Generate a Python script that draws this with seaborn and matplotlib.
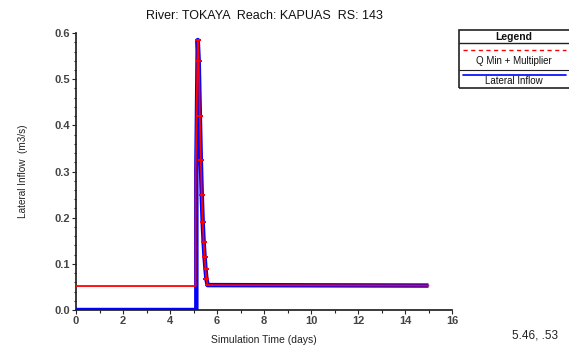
import matplotlib
matplotlib.use("Agg")
import matplotlib.pyplot as plt
from matplotlib.lines import Line2D
from matplotlib.ticker import MultipleLocator
import seaborn as sns
import pandas as pd

# ---- data (days, m3/s) ----
peak_time = [5.18, 5.22, 5.27, 5.31, 5.35, 5.39, 5.43, 5.47, 5.51, 5.55, 5.60, 15.0]
peak_flow = [0.585, 0.54, 0.42, 0.325, 0.25, 0.19, 0.148, 0.115, 0.089, 0.067, 0.054, 0.053]

lat_time = [0.0, 5.12, 5.12] + peak_time
lat_flow = [0.0, 0.0, 0.30] + peak_flow

qmin_time = [0.0, 5.09, 5.09] + peak_time
qmin_flow = [0.052, 0.052, 0.30] + peak_flow

marker_time = peak_time[:-1]
marker_flow = peak_flow[:-1]

title = "River: TOKAYA  Reach: KAPUAS  RS: 143"
xlabel = "Simulation Time (days)"
ylabel = "Lateral Inflow  (m3/s)"

sns.set_theme(style="ticks")
plt.rcParams['font.family'] = ['Liberation Sans', 'DejaVu Sans']

fig = plt.figure(figsize=(5.69, 3.45), dpi=100)
ax = fig.add_axes([0.1336, 0.1014, 0.6608, 0.8026])

df_lat = pd.DataFrame({"t": lat_time, "q": lat_flow})
df_q = pd.DataFrame({"t": qmin_time, "q": qmin_flow})
df_m = pd.DataFrame({"t": marker_time, "q": marker_flow})

sns.lineplot(data=df_lat, x="t", y="q", sort=False, estimator=None, ax=ax,
             color="#0000ff", lw=3.2, solid_capstyle="butt", zorder=3)
sns.lineplot(data=df_q, x="t", y="q", sort=False, estimator=None, ax=ax,
             color="#ff0000", lw=1.3, zorder=4)
sns.scatterplot(data=df_m, x="t", y="q", ax=ax, marker="_", color="#ff0000",
                s=18, linewidth=1.5, zorder=5)

ax.set_xlim(0, 16)
ax.set_ylim(0, 0.6)
ax.xaxis.set_major_locator(MultipleLocator(2))
ax.xaxis.set_minor_locator(MultipleLocator(1))
ax.yaxis.set_major_locator(MultipleLocator(0.1))
ax.yaxis.set_minor_locator(MultipleLocator(0.02))
ax.yaxis.set_major_formatter(matplotlib.ticker.FormatStrFormatter('%.1f'))
ax.tick_params(axis="both", which="major", length=3, width=0.8, labelsize=8,
               labelcolor="#444444", pad=1.5)
ax.tick_params(axis="both", which="minor", length=1.8, width=0.8)
for lab in ax.get_xticklabels() + ax.get_yticklabels():
    lab.set_fontweight("bold")
sns.despine(ax=ax)
ax.spines["left"].set_color("#222222")
ax.spines["bottom"].set_color("#222222")

ax.set_xlabel(xlabel, fontsize=7.5, color="#222222", labelpad=6)
ax.set_ylabel(ylabel, fontsize=7.2, color="#222222", labelpad=19)
ax.set_title(title, fontsize=9, color="#111111", pad=10)

# ---- custom legend box ----
lx0, lx1 = 459 / 569, 1.0
ly_top, ly_bot = 1 - 30 / 345, 1 - 88 / 345
box = plt.Rectangle((lx0, ly_bot), lx1 - lx0 + 0.01, ly_top - ly_bot,
                    transform=fig.transFigure, fill=False, ec="#222222", lw=1.2)
fig.add_artist(box)
fig.add_artist(Line2D([lx0, 1.0], [1 - 43 / 345] * 2, transform=fig.transFigure,
                      color="#222222", lw=1.0))
fig.add_artist(Line2D([lx0, 1.0], [1 - 70 / 345] * 2, transform=fig.transFigure,
                      color="#222222", lw=0.8))
fig.text((lx0 + 1.0) / 2, 1 - 36.5 / 345, "Legend", ha="center", va="center",
         fontsize=7.5, fontweight="bold", color="#111111")
fig.add_artist(Line2D([463 / 569, 566 / 569], [1 - 50 / 345] * 2,
                      transform=fig.transFigure, color="#ff0000", lw=1.0,
                      ls=(0, (3, 2.5))))
fig.text((lx0 + 1.0) / 2, 1 - 61 / 345, "Q Min + Multiplier", ha="center",
         va="center", fontsize=7, color="#111111")
fig.add_artist(Line2D([463 / 569, 566 / 569], [1 - 74.5 / 345] * 2,
                      transform=fig.transFigure, color="#0000ff", lw=1.2))
fig.text((lx0 + 1.0) / 2, 1 - 81.5 / 345, "Lateral Inflow", ha="center",
         va="center", fontsize=7, color="#111111")

fig.text(512 / 569, 1 - 335 / 345, "5.46, .53", ha="left", va="center",
         fontsize=8.5, color="#222222")

fig.savefig("out.png", dpi=100, facecolor="white")
